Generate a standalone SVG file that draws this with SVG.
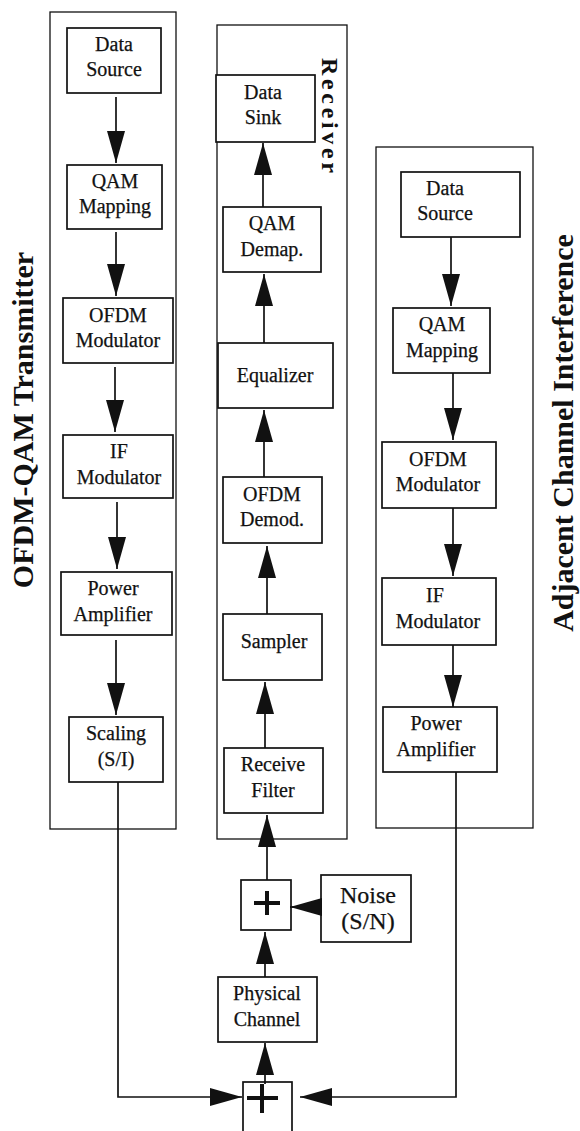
<svg xmlns="http://www.w3.org/2000/svg" width="580" height="1131" viewBox="0 0 580 1131">
<style>
.frame{fill:none;stroke:#111;stroke-width:1.3}
.box{fill:#fff;stroke:#111;stroke-width:1.7}
.t{font-family:"Liberation Serif","Times New Roman",serif;font-size:20px;fill:#111;stroke:#111;stroke-width:0.25;text-anchor:middle}
.n{font-size:24px}
.title{font-family:"Liberation Serif","Times New Roman",serif;font-weight:bold;font-size:30px;fill:#111;text-anchor:middle}
.c{fill:none;stroke:#111;stroke-width:1.7}
.plus{stroke:#111;stroke-width:4;fill:none}
</style>
<defs>
<marker id="ah" viewBox="0 0 32 18" markerWidth="32" markerHeight="18" refX="32" refY="9" orient="auto" markerUnits="userSpaceOnUse">
<path d="M0,0 L32,9 L0,18 z" fill="#111"/>
</marker>
</defs>

<g id="transmitter">
<rect class="frame" x="50" y="12" width="126" height="817"/>
<text class="title" transform="translate(33,420) rotate(-90)">OFDM-QAM Transmitter</text>
</g>
<g id="receiver">
<rect class="frame" x="217" y="25" width="130" height="814"/>
<text class="title" style="font-size:24px" transform="translate(322,115.5) rotate(90)" textLength="115" lengthAdjust="spacing">Receiver</text>
</g>
<g id="interferer">
<rect class="frame" x="376" y="147" width="157" height="681"/>
<text class="title" transform="translate(573,433) rotate(-90)">Adjacent Channel Interference</text>
</g>

<g id="tx-source"><rect class="box" x="67" y="28" width="94" height="65"/><text class="t" x="114" y="51">Data</text><text class="t" x="114" y="76">Source</text></g>
<g id="tx-qam"><rect class="box" x="67" y="165" width="95" height="64"/><text class="t" x="115" y="188">QAM</text><text class="t" x="115" y="213">Mapping</text></g>
<g id="tx-ofdm"><rect class="box" x="63" y="298" width="110" height="65"/><text class="t" x="118" y="322">OFDM</text><text class="t" x="118" y="347">Modulator</text></g>
<g id="tx-if"><rect class="box" x="63" y="435" width="110" height="63"/><text class="t" x="119" y="458">IF</text><text class="t" x="119" y="484">Modulator</text></g>
<g id="tx-pa"><rect class="box" x="61" y="572" width="111" height="63"/><text class="t" x="113" y="595">Power</text><text class="t" x="113" y="621">Amplifier</text></g>
<g id="tx-scaling"><rect class="box" x="69" y="717" width="94" height="65"/><text class="t" x="116" y="740">Scaling</text><text class="t" x="116" y="766">(S/I)</text></g>

<g id="rx-sink"><rect class="box" x="216" y="75" width="99" height="67"/><text class="t" x="263" y="99">Data</text><text class="t" x="263" y="124">Sink</text></g>
<g id="rx-demap"><rect class="box" x="223" y="207" width="98" height="65"/><text class="t" x="272" y="230">QAM</text><text class="t" x="272" y="256">Demap.</text></g>
<g id="rx-eq"><rect class="box" x="218" y="343" width="115" height="65"/><text class="t" x="275" y="382">Equalizer</text></g>
<g id="rx-demod"><rect class="box" x="223" y="477" width="99" height="66"/><text class="t" x="272" y="501">OFDM</text><text class="t" x="272" y="526">Demod.</text></g>
<g id="rx-sampler"><rect class="box" x="223" y="614" width="99" height="66"/><text class="t" x="274" y="648">Sampler</text></g>
<g id="rx-filter"><rect class="box" x="224" y="748" width="99" height="65"/><text class="t" x="273" y="771">Receive</text><text class="t" x="273" y="797">Filter</text></g>

<g id="ai-source"><rect class="box" x="401" y="172" width="119" height="65"/><text class="t" x="445" y="195">Data</text><text class="t" x="445" y="220">Source</text></g>
<g id="ai-qam"><rect class="box" x="393" y="308" width="97" height="65"/><text class="t" x="442" y="331">QAM</text><text class="t" x="442" y="357">Mapping</text></g>
<g id="ai-ofdm"><rect class="box" x="382" y="442" width="114" height="66"/><text class="t" x="438" y="466">OFDM</text><text class="t" x="438" y="491">Modulator</text></g>
<g id="ai-if"><rect class="box" x="382" y="578" width="114" height="67"/><text class="t" x="435" y="602">IF</text><text class="t" x="438" y="628">Modulator</text></g>
<g id="ai-pa"><rect class="box" x="383" y="707" width="114" height="65"/><text class="t" x="436" y="730">Power</text><text class="t" x="436" y="756">Amplifier</text></g>

<g id="adder-rx"><rect class="box" x="241" y="880" width="50" height="50"/><path class="plus" d="M254,903 H280 M267,891 V915"/></g>
<g id="noise"><rect class="box" x="321" y="875" width="90" height="67"/><text class="t n" x="368" y="903">Noise</text><text class="t n" x="368" y="929">(S/N)</text></g>
<g id="channel"><rect class="box" x="218" y="977" width="99" height="65"/><text class="t" x="267" y="1000">Physical</text><text class="t" x="267" y="1026">Channel</text></g>
<g id="adder-ch"><rect class="box" x="243" y="1082" width="49" height="60"/><path class="plus" d="M247,1098 H278 M262,1084 V1113"/></g>

<g id="connectors">
<line class="c" x1="116" y1="97" x2="116" y2="163" marker-end="url(#ah)"/>
<line class="c" x1="116" y1="232" x2="116" y2="296" marker-end="url(#ah)"/>
<line class="c" x1="115" y1="367" x2="115" y2="432" marker-end="url(#ah)"/>
<line class="c" x1="117" y1="502" x2="117" y2="569" marker-end="url(#ah)"/>
<line class="c" x1="116" y1="640" x2="116" y2="715" marker-end="url(#ah)"/>

<line class="c" x1="263" y1="207" x2="263" y2="143" marker-end="url(#ah)"/>
<line class="c" x1="264" y1="343" x2="264" y2="274" marker-end="url(#ah)"/>
<line class="c" x1="264" y1="477" x2="264" y2="410" marker-end="url(#ah)"/>
<line class="c" x1="267" y1="614" x2="267" y2="546" marker-end="url(#ah)"/>
<line class="c" x1="265" y1="748" x2="265" y2="682" marker-end="url(#ah)"/>
<line class="c" x1="267" y1="880" x2="267" y2="815" marker-end="url(#ah)"/>

<line class="c" x1="451" y1="237" x2="451" y2="306" marker-end="url(#ah)"/>
<line class="c" x1="453" y1="373" x2="453" y2="440" marker-end="url(#ah)"/>
<line class="c" x1="453" y1="508" x2="453" y2="576" marker-end="url(#ah)"/>
<line class="c" x1="453" y1="645" x2="453" y2="707" marker-end="url(#ah)"/>

<line class="c" x1="265" y1="977" x2="265" y2="932" marker-end="url(#ah)"/>
<line class="c" x1="265" y1="1084" x2="265" y2="1043" marker-end="url(#ah)"/>
<line class="c" x1="321" y1="907" x2="290" y2="907" marker-end="url(#ah)"/>
<path class="c" d="M118,782 V1097 H242" marker-end="url(#ah)"/>
<path class="c" d="M456,772 V1097 H300" marker-end="url(#ah)"/>
</g>
</svg>
